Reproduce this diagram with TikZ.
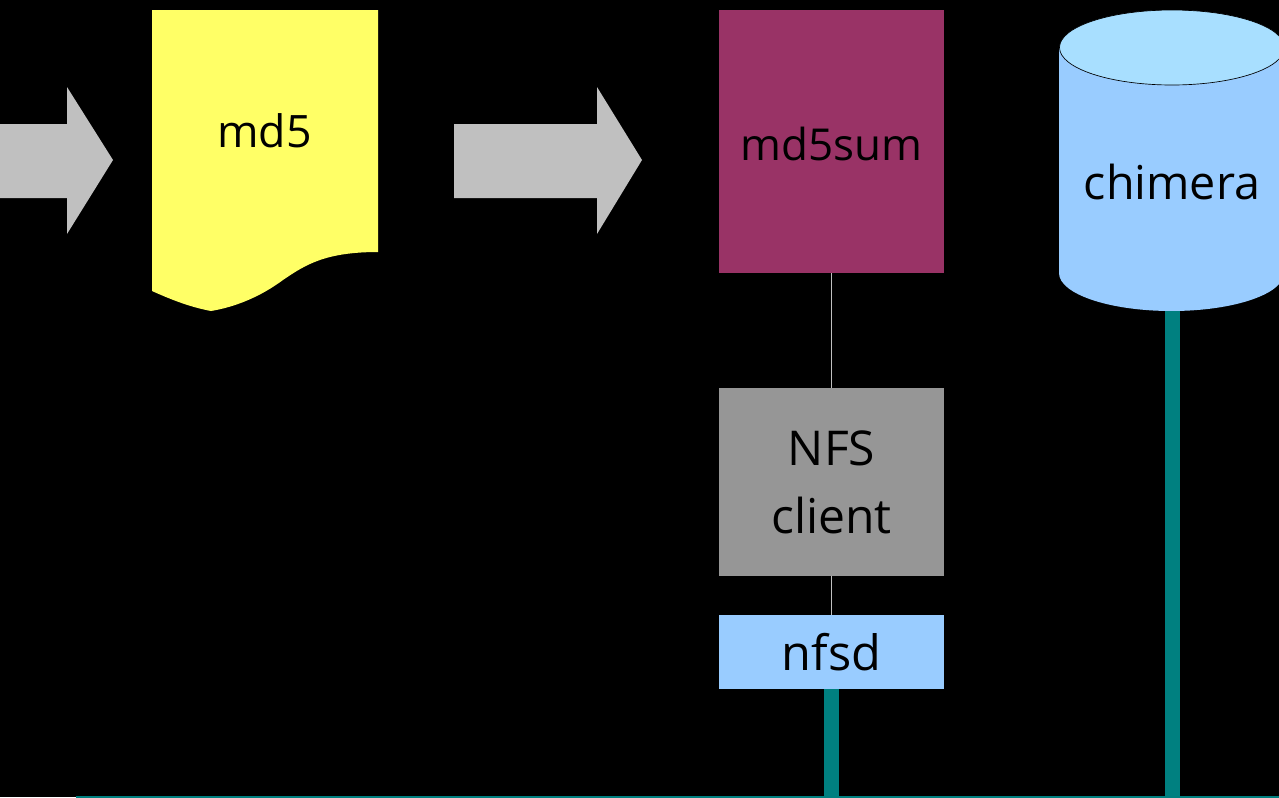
\documentclass[tikz,border=0pt]{standalone}
\usepackage{fontspec}
\setmainfont{Open Sans}
\definecolor{teal1}{HTML}{008080}
\definecolor{sky}{HTML}{99CCFF}
\definecolor{skytop}{HTML}{A8DFFF}
\definecolor{plum}{HTML}{993366}
\definecolor{midgray}{HTML}{969696}
\definecolor{arrowgray}{HTML}{C0C0C0}
\definecolor{docyellow}{HTML}{FFFF66}
\tikzset{
  x=0.75pt,y=-0.75pt,
  box/.style={draw=none,inner sep=0pt,outer sep=0pt,minimum width=169pt,align=center,text=black,font=\fontsize{35}{49.5}\selectfont},
  lab/.style={inner sep=0pt,outer sep=0pt,align=center,text=black,font=\fontsize{35}{49.5}\selectfont},
  wire/.style={draw=arrowgray,line width=0.75pt},
  bar/.style={draw=teal1,line width=11.25pt},
  bigarrow/.style={fill=arrowgray,draw=none}
}
\begin{document}
\begin{tikzpicture}
\useasboundingbox (0,0) rectangle (1279,797);
\clip (0,0) rectangle (1279,797);
\fill[black] (0,0) rectangle (1279,797);
% arrows
\fill[bigarrow] (0,124) -- (67,124) -- (67,87) -- (113,160) -- (67,234) -- (67,198) -- (0,198) -- cycle;
\fill[bigarrow] (454,124) -- (597,124) -- (597,87) -- (642,160) -- (597,234) -- (597,198) -- (454,198) -- cycle;
% document
\fill[docyellow] (152,10) -- (378,10) -- (378,252) .. controls (325,252) and (305,265) .. (283,280) .. controls (260,297) and (235,307) .. (211,311) .. controls (190,307) and (172,300) .. (152,291) -- cycle;
\node[lab,font=\fontsize{33.5}{48}\selectfont] (md5) at (264.5,131) {md5};
% boxes
\node[box,fill=plum,minimum height=197.5pt] (sum) at (831.5,141.67) {};
\node[lab,font=\fontsize{33}{48}\selectfont] (sumlabel) at (831.5,144) {md5sum};
\node[box,fill=midgray,minimum height=140.5pt,font=\fontsize{36}{51}\selectfont] (nfs) at (831.5,482) {NFS\\client};
\node[box,fill=sky,minimum height=55.5pt,font=\fontsize{36.5}{48}\selectfont] (nfsd) at (831.5,652) {nfsd};
% cylinder
\fill[sky] (1059,47.5) -- (1059,273) arc[start angle=180,end angle=360,x radius=112.5,y radius=-38] -- (1284,47.5) -- cycle;
\filldraw[fill=skytop,draw=black,line width=0.5pt] (1172,47.5) ellipse[x radius=112.5,y radius=37.5];
\node[lab] (chim) at (1172,182) {chimera};
\coordinate (chimb) at (1172,311);
% bus
\coordinate (busl) at (76,797);
\coordinate (busr) at (1279,797);
\coordinate (busa) at (nfsd.south |- busl);
\coordinate (busb) at (chimb |- busl);
\draw[wire] (sum) -- (nfs);
\draw[wire] (nfs) -- (nfsd);
\draw[bar] (nfsd.south) -- (busa);
\draw[bar] (chimb) -- (busb);
\draw[teal1,line width=1.5pt] (busl) -- (busr);
\end{tikzpicture}
\end{document}
